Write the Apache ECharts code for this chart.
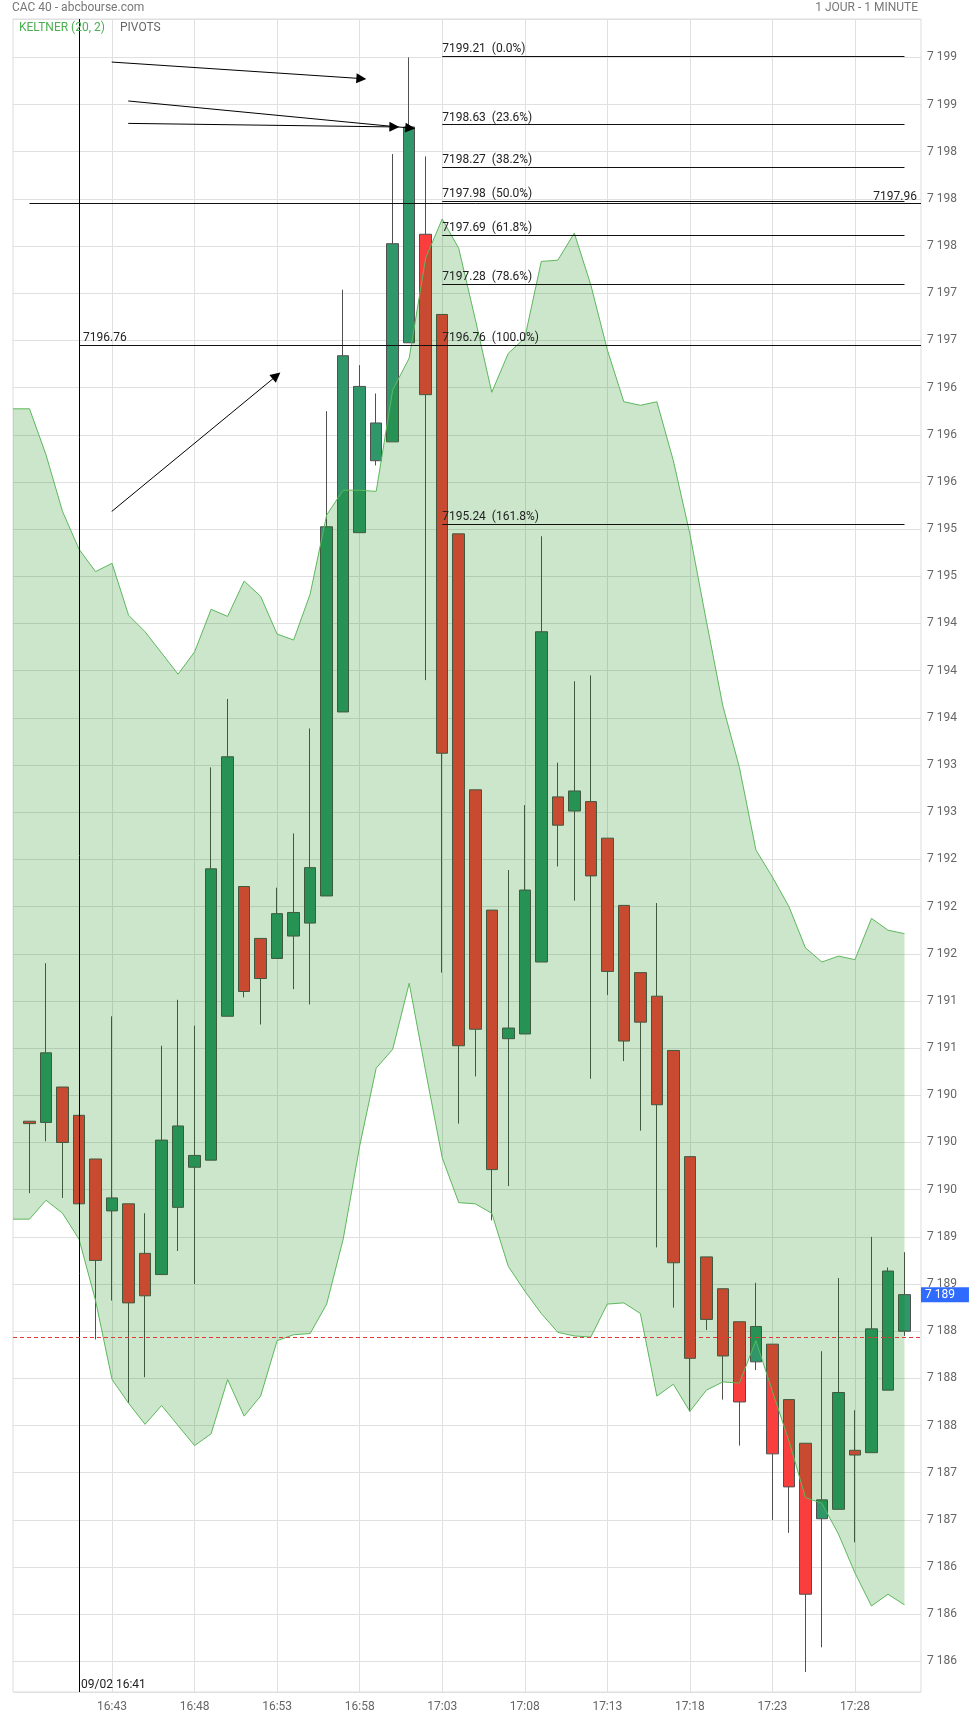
<!DOCTYPE html>
<html><head><meta charset="utf-8">
<script src="https://cdn.jsdelivr.net/npm/echarts@6/dist/echarts.min.js"></script>
<style>html,body{margin:0;padding:0;background:#fff}#c{width:969px;height:1718px}</style>
</head><body><div id="c"></div>
<script>
// ---- categories (one per minute) ----
const times = ['16:37','16:38','16:39','16:40','16:41','16:42','16:43','16:44','16:45','16:46','16:47','16:48','16:49','16:50','16:51','16:52','16:53','16:54','16:55','16:56','16:57','16:58','16:59',
  '17:00','17:01','17:02','17:03','17:04','17:05','17:06','17:07','17:08','17:09','17:10','17:11','17:12','17:13','17:14','17:15','17:16','17:17','17:18','17:19','17:20','17:21','17:22','17:23','17:24','17:25','17:26','17:27','17:28','17:29','17:30','17:31','17:32'];
const candleTimes = times.slice(1, 55);   // 16:38 .. 17:31
const bandTimes = times.slice(0, 55);     // 16:37 .. 17:31
const xTickLabels = ['16:43','16:48','16:53','16:58','17:03','17:08','17:13','17:18','17:23','17:28'];

// ---- OHLC ----
const opens = [7190.18,7190.17,7190.47,7190.23,7189.86,7189.42,7189.48,7189.06,7188.88,7189.45,
  7189.79,7189.85,7191.07,7192.17,7191.73,7191.56,7191.75,7191.86,7192.09,7193.65,
  7195.17,7195.78,7195.94,7196.78,7197.70,7197.02,7195.16,7192.99,7191.97,7190.88,
  7190.92,7191.53,7192.93,7192.81,7192.89,7192.58,7192.01,7191.44,7191.24,7190.78,
  7189.88,7189.03,7188.76,7188.48,7188.14,7188.29,7187.82,7187.45,7186.81,7186.89,
  7187.39,7187.37,7187.90,7188.40];
const closes = [7190.16,7190.76,7190.00,7189.48,7189.00,7189.53,7188.64,7188.70,7190.02,7190.14,
  7189.89,7192.32,7193.27,7191.28,7191.39,7191.94,7191.95,7192.33,7195.22,7196.67,
  7196.41,7196.10,7197.62,7198.61,7196.34,7193.30,7190.82,7190.96,7189.77,7190.97,
  7192.14,7194.33,7192.69,7192.98,7192.26,7191.45,7190.86,7191.02,7190.32,7188.98,
  7188.17,7188.50,7188.19,7187.80,7188.44,7187.36,7187.08,7186.17,7186.97,7187.88,
  7187.35,7188.42,7188.91,7188.71];
const lows = [7189.57,7190.01,7189.53,7189.48,7188.33,7188.66,7187.79,7188.01,7188.88,7189.08,
  7188.80,7189.85,7191.07,7191.23,7191.00,7191.56,7191.30,7191.17,7192.09,7193.65,
  7195.17,7195.74,7195.94,7196.78,7193.92,7191.44,7190.16,7190.56,7189.34,7189.63,
  7190.92,7191.53,7192.34,7192.05,7190.54,7191.25,7190.69,7190.10,7189.11,7188.60,
  7187.72,7188.41,7187.82,7187.43,7188.07,7186.80,7186.69,7185.51,7185.72,7186.89,
  7186.61,7187.37,7187.90,7188.36];
const highs = [7190.18,7191.52,7190.47,7190.23,7189.86,7191.07,7189.48,7189.40,7190.82,7191.21,
  7190.99,7193.18,7193.76,7192.17,7191.73,7192.16,7192.62,7193.51,7196.20,7197.23,
  7196.59,7196.35,7198.38,7199.20,7198.36,7197.02,7195.16,7192.99,7191.97,7192.31,
  7192.86,7195.14,7193.22,7193.91,7193.96,7192.58,7192.01,7191.44,7192.03,7190.78,
  7189.88,7189.03,7188.76,7188.48,7188.81,7188.29,7187.82,7187.45,7188.23,7188.85,
  7187.73,7189.20,7188.94,7189.07];

// ---- Keltner (20, 2) ----
const keltnerUpper = [7196.22,7196.22,7195.83,7195.35,7195.03,7194.84,7194.91,7194.47,7194.33,7194.15,
  7193.97,7194.16,7194.52,7194.46,7194.76,7194.63,7194.31,7194.26,7194.65,7195.32,
  7195.53,7195.53,7195.52,7196.38,7196.65,7197.50,7197.83,7197.58,7196.98,7196.36,
  7196.69,7196.82,7197.47,7197.48,7197.71,7197.27,7196.72,7196.28,7196.25,7196.28,
  7195.78,7195.16,7194.42,7193.70,7193.18,7192.48,7192.25,7192.00,7191.65,7191.53,
  7191.58,7191.55,7191.90,7191.80,7191.77];
const keltnerLower = [7189.35,7189.35,7189.51,7189.40,7189.18,7188.66,7187.99,7187.79,7187.61,7187.77,
  7187.60,7187.43,7187.53,7187.99,7187.68,7187.85,7188.32,7188.37,7188.38,7188.63,
  7189.18,7189.97,7190.63,7190.79,7191.35,7190.60,7189.87,7189.49,7189.48,7189.40,
  7188.95,7188.74,7188.55,7188.39,7188.36,7188.35,7188.63,7188.64,7188.55,7187.85,
  7187.95,7187.72,7187.90,7187.97,7187.96,7188.32,7187.89,7187.47,7186.99,7186.94,
  7186.68,7186.35,7186.07,7186.17,7186.08];

// ---- axis range / ticks ----
const yMin = 7185.341, yMax = 7199.525, yTickStep = 0.4;

// ---- Fibonacci ----
const fibLevels = [7199.21, 7198.63, 7198.27, 7197.98, 7197.69, 7197.28, 7196.76, 7195.24];
const fibPercents = ['0.0%', '23.6%', '38.2%', '50.0%', '61.8%', '78.6%', '100.0%', '161.8%'];
const fibFrom = '17:03', fibTo = '17:31';

// ---- pivots / markers ----
const pivotLevels = [7196.76, 7197.96];
const pivotFrom = ['16:41', '16:38'];
const markerTime = '16:41', markerLabel = '09/02 16:41';
const refLevel = 7188.35;

// ---- arrows (minutes after 16:37, price) ----
const arrowFrom = [[5.98, 7199.16], [6.98, 7198.83], [6.98, 7198.64], [5.98, 7195.35]];
const arrowTo   = [[21.1, 7199.02], [24.06, 7198.60], [23.1, 7198.61], [15.96, 7196.50]];

const FONT = 'Roboto, "DejaVu Sans", sans-serif';
const idx = t => times.indexOf(t);
const fmtInt = v => String(Math.round(v)).replace(/\B(?=(\d{3})+(?!\d))/g, ' ');
const isGridMinute = (i, t) => xTickLabels.indexOf(String(t)) >= 0;
const lastClose = closes[closes.length - 1];
const lastIdx = times.length - 1;

const fibLines = fibLevels.map((lvl, i) => [
  { coord: [idx(fibFrom), lvl],
    label: { show: true, position: 'insideStartTop', distance: [0, 1],
      formatter: lvl.toFixed(2) + '  (' + fibPercents[i] + ')', color: '#222', fontSize: 12, fontFamily: FONT } },
  { coord: [idx(fibTo), lvl] }
]);
const pivotLines = [
  [{ coord: [idx(pivotFrom[0]), pivotLevels[0]],
     label: { show: true, position: 'insideStartTop', distance: [4, 1], formatter: pivotLevels[0].toFixed(2), color: '#222', fontSize: 12, fontFamily: FONT } },
   { coord: [lastIdx, pivotLevels[0]] }],
  [{ coord: [idx(pivotFrom[1]), pivotLevels[1]],
     label: { show: true, position: 'insideEndTop', distance: [4, 1], formatter: pivotLevels[1].toFixed(2), color: '#222', fontSize: 12, fontFamily: FONT } },
   { coord: [lastIdx, pivotLevels[1]] }]
];

const chart = echarts.init(document.getElementById('c'), null, { renderer: 'canvas' });
chart.setOption({
  animation: false,
  backgroundColor: '#fff',
  textStyle: { fontFamily: FONT },
  title: [
    { text: 'CAC 40 - abcbourse.com', left: 12, top: 2, padding: 0, textStyle: { fontSize: 12, fontWeight: 'normal', color: '#777', fontFamily: FONT } },
    { text: '1 JOUR - 1 MINUTE', right: 51, top: 2, padding: 0, textStyle: { fontSize: 12, fontWeight: 'normal', color: '#777', fontFamily: FONT } },
    { text: 'KELTNER (20, 2)', left: 19, top: 22, padding: 0, textStyle: { fontSize: 12, fontWeight: 'normal', color: '#4caf50', fontFamily: FONT } },
    { text: 'PIVOTS', left: 120, top: 22, padding: 0, textStyle: { fontSize: 12, fontWeight: 'normal', color: '#666', fontFamily: FONT } }
  ],
  grid: { left: 13, right: 48, top: 19, bottom: 26, show: true, borderColor: '#dcdcdc', borderWidth: 1, containLabel: false },
  xAxis: [
    { type: 'category', data: times, boundaryGap: false,
      axisLine: { show: false }, axisTick: { show: false },
      axisLabel: { interval: isGridMinute, color: '#666', fontSize: 12, margin: 9, fontFamily: FONT },
      splitLine: { show: true, interval: isGridMinute, lineStyle: { color: '#e0e0e0', width: 1 } } },
    { type: 'value', min: 0, max: lastIdx, show: false }
  ],
  yAxis: {
    type: 'value', position: 'right', min: yMin, max: yMax, minInterval: yTickStep, maxInterval: yTickStep, splitNumber: 40,
    axisLine: { show: false }, axisTick: { show: false },
    axisLabel: { formatter: fmtInt, color: '#666', fontSize: 12, margin: 6, fontFamily: FONT, showMinLabel: false, showMaxLabel: false },
    splitLine: { show: true, lineStyle: { color: '#e0e0e0', width: 1 } }
  },
  series: [
    { type: 'candlestick', xAxisIndex: 0, barWidth: 12, z: 2,
      data: candleTimes.map((t, i) => [t, opens[i], closes[i], lows[i], highs[i]]),
      encode: { x: 0, y: [1, 2, 3, 4] },
      itemStyle: { color: '#30976a', color0: '#fa3e3e', borderColor: '#505050', borderColor0: '#505050', borderWidth: 1 } },
    { type: 'line', xAxisIndex: 0, stack: 'kel', symbol: 'none', z: 3, silent: true,
      data: bandTimes.map((t, i) => [t, keltnerLower[i]]),
      lineStyle: { color: '#5cb85c', width: 1 } },
    { type: 'line', xAxisIndex: 0, stack: 'kel', symbol: 'none', z: 3, silent: true,
      data: bandTimes.map((t, i) => [t, keltnerUpper[i] - keltnerLower[i]]),
      lineStyle: { color: '#5cb85c', width: 1 },
      areaStyle: { color: 'rgba(0,128,0,0.2)', opacity: 1 } },
    { type: 'line', xAxisIndex: 1, yAxisIndex: 0, data: [], z: 5, silent: true,
      markLine: {
        silent: true, animation: false, symbol: ['none', 'none'],
        lineStyle: { color: '#111', width: 1, type: 'solid' },
        label: { show: false },
        data: [
          ...fibLines,
          ...pivotLines,
          { xAxis: idx(markerTime), lineStyle: { color: '#000', width: 1, type: 'solid' }, label: { show: false } },
          { yAxis: refLevel, lineStyle: { color: '#e53935', width: 1, type: [4, 3] }, label: { show: false } }
        ]
      },
      markPoint: {
        silent: true, animation: false, symbol: 'circle', symbolSize: 0,
        data: [
          { coord: [idx(markerTime), 7185.40],
            label: { show: true, position: 'right', distance: 2, formatter: markerLabel, color: '#222', fontSize: 12, fontFamily: FONT } },
          { coord: [lastIdx, lastClose],
            label: { show: true, position: 'right', distance: 0, formatter: fmtInt(lastClose), color: '#fff',
              backgroundColor: '#2f6bff', padding: [2, 14, 1, 4], fontSize: 12, fontFamily: FONT } }
        ]
      }
    },
    { type: 'line', xAxisIndex: 1, yAxisIndex: 0, data: [], z: 6, silent: true,
      markLine: {
        silent: true, animation: false, symbol: ['none', 'triangle'], symbolSize: 10,
        lineStyle: { color: '#000', width: 1, type: 'solid' },
        itemStyle: { color: '#000' },
        label: { show: false },
        data: arrowFrom.map((p, i) => [{ coord: p, symbol: 'none' }, { coord: arrowTo[i], symbol: 'triangle' }])
      }
    }
  ]
});
</script></body></html>
